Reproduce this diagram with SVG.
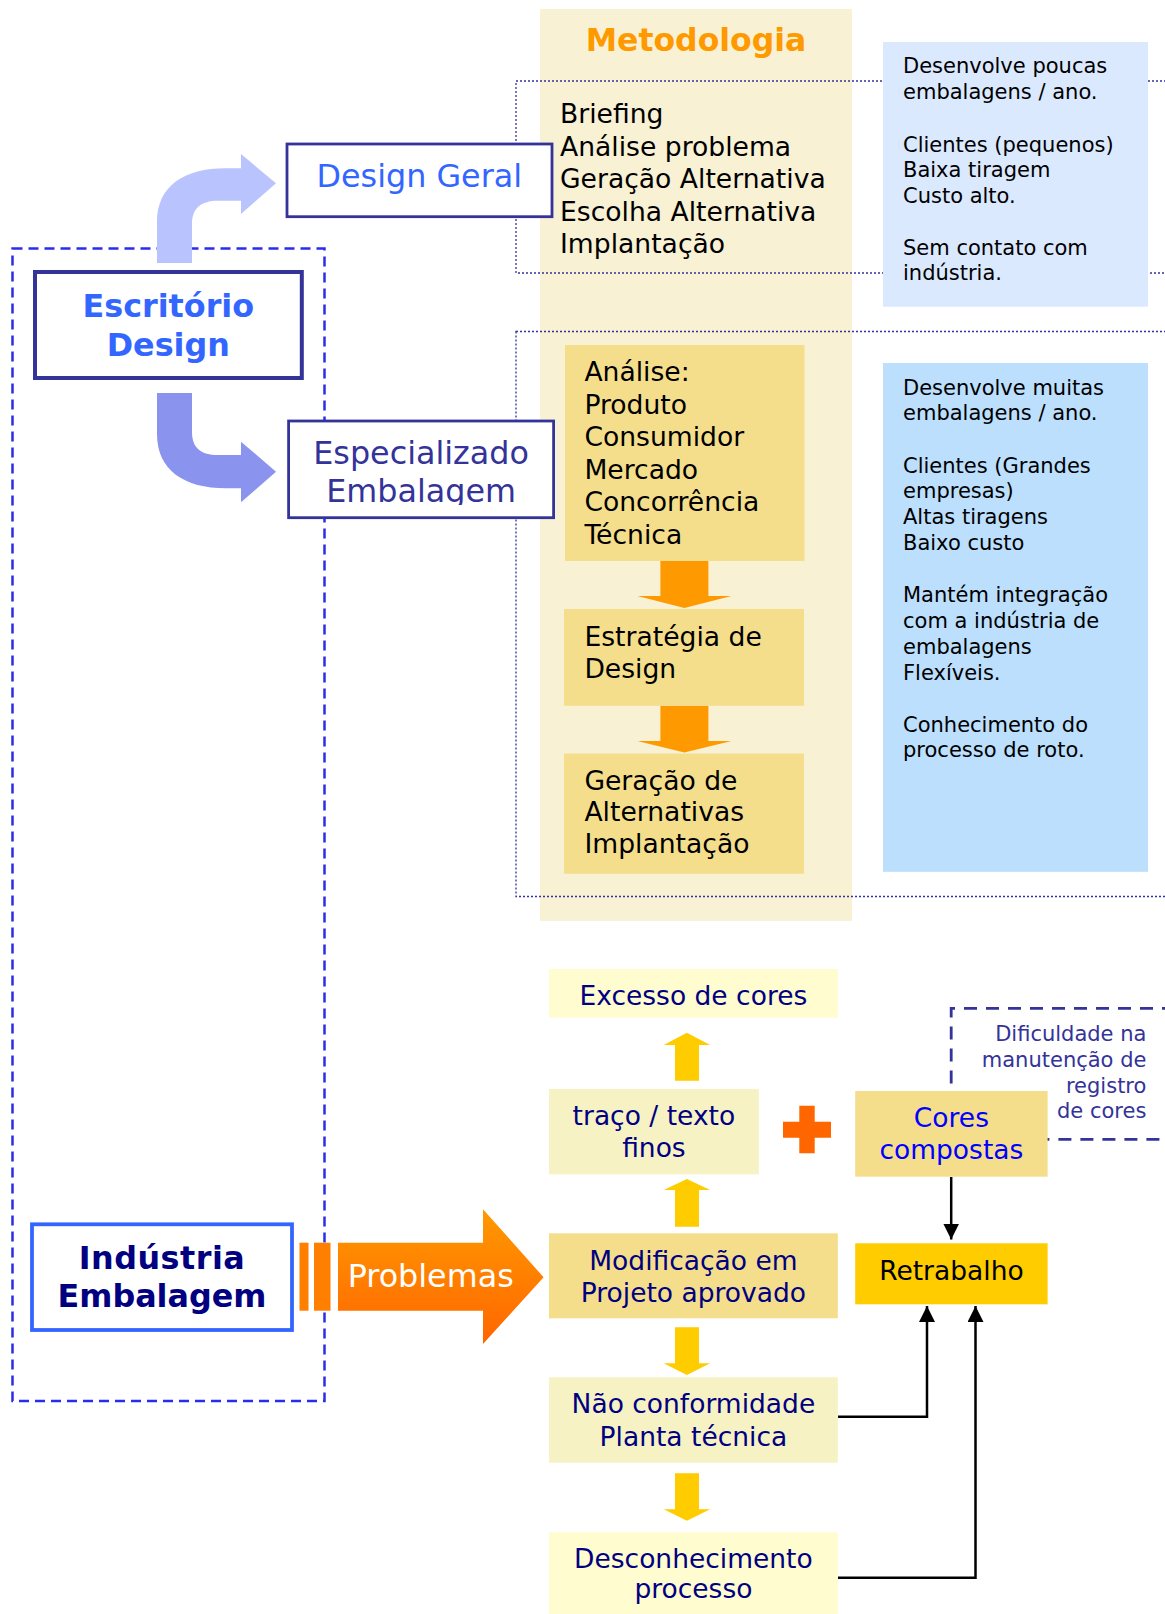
<svg xmlns="http://www.w3.org/2000/svg" width="1165" height="1614" viewBox="0 0 1165 1614">
  <style>
    text { font-family: "DejaVu Sans", Verdana, sans-serif; }
    .dotted { fill: none; stroke: #333399; stroke-width: 1.3; stroke-dasharray: 2 2; }
    .big { font-size: 31.8px; }
    .list { font-size: 26.6px; fill: #000; }
    .note { font-size: 21px; fill: #000; }
    .flow { font-size: 26.5px; fill: #000080; text-anchor: middle; }
    .gold { fill: #f5de8b; }
    .pale { fill: #f7f2c3; }
    .cream { fill: #fffccf; }
    .yarrow { fill: #ffcc00; }
    .oarrow { fill: #ff9900; }
    .link { fill: none; stroke: #000; stroke-width: 2.5; }
  </style>
  <defs>
    <marker id="tip" markerUnits="userSpaceOnUse" markerWidth="16" markerHeight="17" refX="16" refY="8" orient="auto">
      <path d="M0,0 L16,8 L0,16 Z" fill="#000"/>
    </marker>
    <linearGradient id="probGrad" x1="0" y1="0" x2="0" y2="1">
      <stop offset="0" stop-color="#ff9900"/>
      <stop offset="1" stop-color="#ff6600"/>
    </linearGradient>
    <clipPath id="espClip">
      <rect x="286" y="419" width="270" height="86"/>
    </clipPath>
  </defs>

  <!-- methodology column -->
  <rect x="540" y="9" width="312" height="912" fill="#f8f1d4"/>
  <text x="696" y="51" text-anchor="middle" font-size="31.5" font-weight="bold" fill="#ff9900">Metodologia</text>

  <!-- dotted frames grouping each design route -->
  <rect class="dotted" x="516" y="81" width="660" height="192"/>
  <rect class="dotted" x="516" y="331.5" width="660" height="565"/>

  <!-- office outline -->
  <rect x="12.5" y="248.5" width="312" height="1152.5" fill="none" stroke="#2b2bef" stroke-width="2.5" stroke-dasharray="10 6"/>

  <g id="connectors">
    <!-- curved arrows from the office -->
    <path d="M157,263 L157,222 C157,186 184,168.3 226,168.3 L241,168.3 L241,154 L276,183.3 L241,214 L241,200.7 L218,200.7 C201,200.7 192,208 192,224 L192,263 Z" fill="#b9c3fe"/>
    <path d="M157,393 L157,434 C157,470 184,488.3 226,488.3 L241,488.3 L241,502.3 L276,471.7 L241,441.7 L241,455 L218,455 C201,455 192,448 192,432 L192,393 Z" fill="#8a94ef"/>

    <!-- methodology steps -->
    <path class="oarrow" d="M660.4,561 L708.4,561 L708.4,596 L731.4,596 L684.4,608 L637.4,596 L660.4,596 Z"/>
    <path class="oarrow" d="M660.4,705.8 L708.4,705.8 L708.4,741 L731.4,741 L684.4,752.5 L637.4,741 L660.4,741 Z"/>

    <!-- problems arrow -->
    <rect x="299.5" y="1242.7" width="9" height="68" fill="#ff7f00"/>
    <rect x="314" y="1242.7" width="16.5" height="68" fill="#ff7f00"/>
    <path d="M338,1242.7 L483,1242.7 L483,1209.3 L543.6,1277.3 L483,1344 L483,1310.7 L338,1310.7 Z" fill="url(#probGrad)"/>

    <!-- yellow flow arrows -->
    <path class="yarrow" d="M675,1080.7 L699,1080.7 L699,1045 L710.2,1045 L686.9,1032.7 L663.7,1045 L675,1045 Z"/>
    <path class="yarrow" d="M675,1226.7 L699,1226.7 L699,1190 L710.2,1190 L686.9,1179 L663.7,1190 L675,1190 Z"/>
    <path class="yarrow" d="M675,1327.3 L699,1327.3 L699,1363.3 L710.2,1363.3 L686.9,1375 L663.7,1363.3 L675,1363.3 Z"/>
    <path class="yarrow" d="M675,1473.3 L699,1473.3 L699,1509.3 L710.2,1509.3 L686.9,1520.7 L663.7,1509.3 L675,1509.3 Z"/>

    <!-- plus sign -->
    <path d="M799.3,1105.7 L814.7,1105.7 L814.7,1121.7 L831,1121.7 L831,1137.7 L814.7,1137.7 L814.7,1153.3 L799.3,1153.3 L799.3,1137.7 L783,1137.7 L783,1121.7 L799.3,1121.7 Z" fill="#ff6600"/>

    <!-- links to rework -->
    <path class="link" d="M951.2,1177 L951.2,1239.5" marker-end="url(#tip)"/>
    <path class="link" d="M838,1416.7 L927,1416.7 L927,1306" marker-end="url(#tip)"/>
    <path class="link" d="M838,1577.7 L975.5,1577.7 L975.5,1306" marker-end="url(#tip)"/>
  </g>

  <g id="design-geral">
    <rect x="287" y="144" width="265" height="72.7" fill="#fff" stroke="#333399" stroke-width="2.8"/>
    <text x="419.3" y="186.7" class="big" text-anchor="middle" fill="#3366ff">Design Geral</text>
  </g>

  <g id="escritorio-design">
    <rect x="35" y="272" width="266.8" height="106" fill="#fff" stroke="#333399" stroke-width="4"/>
    <text x="168.3" y="316.7" class="big" text-anchor="middle" font-weight="bold" fill="#3366ff">Escritório</text>
    <text x="168.3" y="356" class="big" text-anchor="middle" font-weight="bold" fill="#3366ff">Design</text>
  </g>

  <g id="especializado-embalagem">
    <rect x="288.6" y="421" width="265" height="96.7" fill="#fff" stroke="#333399" stroke-width="2.8"/>
    <g clip-path="url(#espClip)">
      <text x="421.1" y="464.3" class="big" text-anchor="middle" fill="#333399">Especializado</text>
      <text x="421.1" y="502.3" class="big" text-anchor="middle" fill="#333399">Embalagem</text>
    </g>
  </g>

  <g id="metodologia-geral">
    <text class="list" x="560" y="122.5">Briefing</text>
    <text class="list" x="560" y="155.5">Análise problema</text>
    <text class="list" x="560" y="188">Geração Alternativa</text>
    <text class="list" x="560" y="220.5">Escolha Alternativa</text>
    <text class="list" x="560" y="252.5">Implantação</text>
  </g>

  <g id="perfil-geral">
    <rect x="883" y="42" width="265" height="264.7" fill="#dbe9fe"/>
    <text class="note" x="903" y="72.7">Desenvolve poucas</text>
    <text class="note" x="903" y="98.5">embalagens / ano.</text>
    <text class="note" x="903" y="151.7">Clientes (pequenos)</text>
    <text class="note" x="903" y="177">Baixa tiragem</text>
    <text class="note" x="903" y="202.5">Custo alto.</text>
    <text class="note" x="903" y="255">Sem contato com</text>
    <text class="note" x="903" y="280">indústria.</text>
  </g>

  <g id="analise">
    <rect class="gold" x="565" y="345" width="239.5" height="216"/>
    <text class="list" x="584.4" y="381.2">Análise:</text>
    <text class="list" x="584.4" y="413.8">Produto</text>
    <text class="list" x="584.4" y="446.3">Consumidor</text>
    <text class="list" x="584.4" y="478.8">Mercado</text>
    <text class="list" x="584.4" y="511.4">Concorrência</text>
    <text class="list" x="584.4" y="543.9">Técnica</text>
  </g>

  <g id="estrategia">
    <rect class="gold" x="564" y="609" width="240" height="96.8"/>
    <text class="list" x="584.4" y="646">Estratégia de</text>
    <text class="list" x="584.4" y="677.8">Design</text>
  </g>

  <g id="geracao">
    <rect class="gold" x="564" y="753.6" width="240" height="120.2"/>
    <text class="list" x="584.4" y="790">Geração de</text>
    <text class="list" x="584.4" y="821.3">Alternativas</text>
    <text class="list" x="584.4" y="853">Implantação</text>
  </g>

  <g id="perfil-especializado">
    <rect x="883" y="363" width="265" height="508.8" fill="#bbdffd"/>
    <text class="note" x="903" y="394.6">Desenvolve muitas</text>
    <text class="note" x="903" y="420.3">embalagens / ano.</text>
    <text class="note" x="903" y="473">Clientes (Grandes</text>
    <text class="note" x="903" y="498">empresas)</text>
    <text class="note" x="903" y="524">Altas tiragens</text>
    <text class="note" x="903" y="549.6">Baixo custo</text>
    <text class="note" x="903" y="602.4">Mantém integração</text>
    <text class="note" x="903" y="628">com a indústria de</text>
    <text class="note" x="903" y="654">embalagens</text>
    <text class="note" x="903" y="679.7">Flexíveis.</text>
    <text class="note" x="903" y="732.2">Conhecimento do</text>
    <text class="note" x="903" y="757.4">processo de roto.</text>
  </g>

  <g id="industria-embalagem">
    <rect x="32" y="1224.3" width="260" height="105.7" fill="#fff" stroke="#3366ff" stroke-width="3.8"/>
    <text x="162" y="1269.3" class="big" text-anchor="middle" font-weight="bold" fill="#000080" letter-spacing="0.5">Indústria</text>
    <text x="162" y="1306.7" class="big" text-anchor="middle" font-weight="bold" fill="#000080">Embalagem</text>
  </g>

  <g id="problemas">
    <text x="430.7" y="1287.3" class="big" text-anchor="middle" fill="#fff">Problemas</text>
  </g>

  <g id="excesso-cores">
    <rect class="cream" x="549" y="969" width="288.8" height="48.7"/>
    <text class="flow" x="693.4" y="1005">Excesso de cores</text>
  </g>

  <g id="traco-texto">
    <rect class="pale" x="549" y="1089" width="209.8" height="85.3"/>
    <text class="flow" x="653.9" y="1125">traço / texto</text>
    <text class="flow" x="653.9" y="1157.3">finos</text>
  </g>

  <g id="dificuldade">
    <path d="M1175,1008.3 L951.2,1008.3 L951.2,1139.3 L1175,1139.3" fill="none" stroke="#333399" stroke-width="2.8" stroke-dasharray="13 9"/>
    <text x="1146.4" y="1040.7" font-size="21" fill="#333399" text-anchor="end">Dificuldade na</text>
    <text x="1146.4" y="1066.7" font-size="21" fill="#333399" text-anchor="end">manutenção de</text>
    <text x="1146.4" y="1092.7" font-size="21" fill="#333399" text-anchor="end">registro</text>
    <text x="1146.4" y="1118.3" font-size="21" fill="#333399" text-anchor="end">de cores</text>
  </g>

  <g id="cores-compostas">
    <rect class="gold" x="855.2" y="1091" width="192.4" height="85.7"/>
    <text class="flow" x="951.4" y="1126.7" style="fill:#0000ff">Cores</text>
    <text class="flow" x="951.4" y="1159.3" style="fill:#0000ff">compostas</text>
  </g>

  <g id="modificacao">
    <rect class="gold" x="549" y="1233.3" width="288.8" height="85"/>
    <text class="flow" x="693.4" y="1270">Modificação em</text>
    <text class="flow" x="693.4" y="1302">Projeto aprovado</text>
  </g>

  <g id="retrabalho">
    <rect x="855.2" y="1243.3" width="192.4" height="61" fill="#ffcc00"/>
    <text class="flow" x="951.4" y="1280" style="fill:#000">Retrabalho</text>
  </g>

  <g id="nao-conformidade">
    <rect class="pale" x="549" y="1377.3" width="288.8" height="85.4"/>
    <text class="flow" x="693.4" y="1413.3">Não conformidade</text>
    <text class="flow" x="693.4" y="1445.7">Planta técnica</text>
  </g>

  <g id="desconhecimento">
    <rect class="cream" x="549" y="1532.3" width="288.8" height="82"/>
    <text class="flow" x="693.4" y="1567.7">Desconhecimento</text>
    <text class="flow" x="693.4" y="1598.3">processo</text>
  </g>
</svg>
